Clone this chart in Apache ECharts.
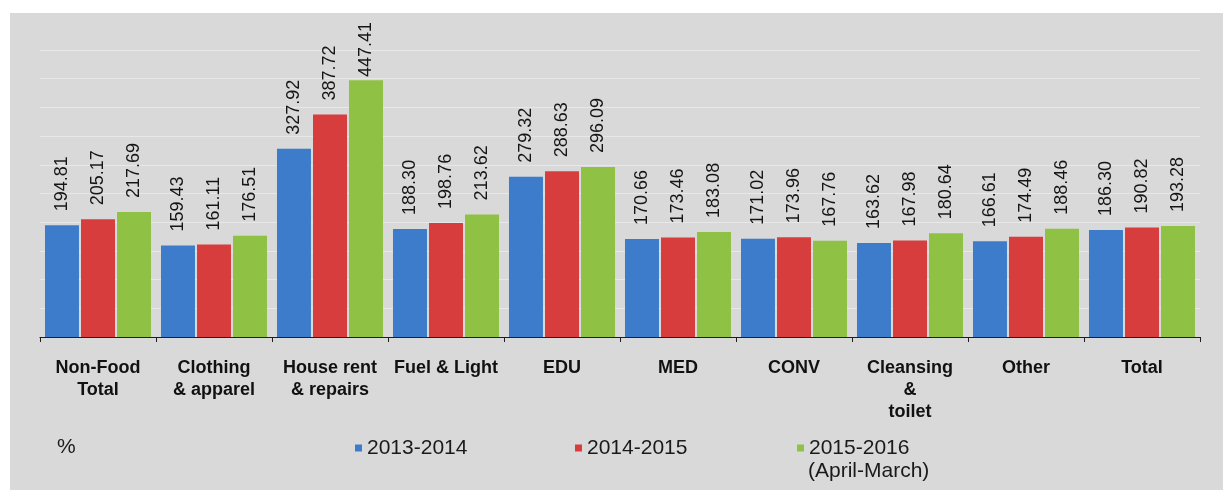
<!DOCTYPE html>
<html>
<head>
<meta charset="utf-8">
<script src="https://cdn.jsdelivr.net/npm/echarts@6/dist/echarts.min.js"></script>
<style>
  html, body { margin: 0; padding: 0; background: #ffffff; }
  #chart { width: 1223px; height: 490px; }
</style>
</head>
<body>
<div id="chart"></div>
<script>
// Expenditure indices by group, three survey years
const categories = [
  'Non-Food\nTotal', 'Clothing\n& apparel', 'House rent\n& repairs', 'Fuel & Light',
  'EDU', 'MED', 'CONV', 'Cleansing\n&\ntoilet', 'Other', 'Total'
];
const seriesNames = ['2013-2014', '2014-2015', '2015-2016'];
const values2013 = [194.81, 159.43, 327.92, 188.30, 279.32, 170.66, 171.02, 163.62, 166.61, 186.30];
const values2014 = [205.17, 161.11, 387.72, 198.76, 288.63, 173.46, 173.96, 167.98, 174.49, 190.82];
const values2015 = [217.69, 176.51, 447.41, 213.62, 296.09, 183.08, 167.76, 180.64, 188.46, 193.28];
const unitLabel = '%';
const periodNote = '(April-March)';

const colors = ['#3d7cca', '#d73d3d', '#8fc244'];
const allValues = [values2013, values2014, values2015];
const fontStack = '"Liberation Sans", Arial, sans-serif';
const labelCeiling = 22; // value labels are kept below this line

const chart = echarts.init(document.getElementById('chart'), null, { renderer: 'canvas' });

const valueLabel = {
  show: true,
  position: 'top',
  distance: 14,
  rotate: 90,
  align: 'left',
  verticalAlign: 'middle',
  fontFamily: fontStack,
  fontSize: 18,
  color: '#151515',
  formatter: p => Number(p.value).toFixed(2)
};

const series = seriesNames.map((name, i) => ({
  name: name,
  type: 'bar',
  data: allValues[i],
  itemStyle: { color: colors[i] },
  barGap: '6%',
  barCategoryGap: '8.6%',
  label: valueLabel,
  // move a label back down if it would run past the top of the panel
  labelLayout: p => {
    const r = p.labelRect;
    if (r && r.y < labelCeiling) {
      return { x: r.x + r.width / 2, y: labelCeiling + r.height };
    }
    return {};
  },
  emphasis: { disabled: true }
}));

function legendFor(name, left) {
  return {
    data: [name],
    left: left,
    top: 436.5,
    padding: 0,
    icon: 'rect',
    itemWidth: 7,
    itemHeight: 7,
    itemGap: 0,
    selectedMode: false,
    textStyle: {
      fontFamily: fontStack,
      fontSize: 21,
      lineHeight: 23,
      color: '#1a1a1a'
    }
  };
}

const option = {
  animation: false,
  backgroundColor: '#ffffff',
  color: colors,
  graphic: [
    {
      type: 'rect',
      z: -10,
      shape: { x: 10, y: 13, width: 1213, height: 477 },
      style: { fill: '#d9d9d9' },
      silent: true
    },
    {
      type: 'text',
      left: 57,
      top: 437,
      style: {
        text: unitLabel,
        font: '21px "Liberation Sans", Arial, sans-serif',
        fill: '#1a1a1a'
      }
    },
    {
      // second line under the last legend entry
      type: 'text',
      left: 808,
      top: 461,
      style: {
        text: periodNote,
        font: '21px "Liberation Sans", Arial, sans-serif',
        fill: '#1a1a1a'
      }
    }
  ],
  grid: { left: 40, right: 23, top: 50, bottom: 153, containLabel: false },
  legend: [
    legendFor(seriesNames[0], 355),
    legendFor(seriesNames[1], 575),
    legendFor(seriesNames[2], 797)
  ],
  xAxis: {
    type: 'category',
    data: categories,
    axisLine: { show: true, lineStyle: { color: '#1e1e1e', width: 1.2 } },
    axisTick: { show: true, length: 5, lineStyle: { color: '#1e1e1e' } },
    axisLabel: {
      interval: 0,
      margin: 20,
      fontFamily: fontStack,
      fontWeight: 'bold',
      fontSize: 18,
      lineHeight: 22,
      color: '#111111',
      verticalAlign: 'top'
    }
  },
  yAxis: {
    type: 'value',
    min: 0,
    max: 500,
    interval: 50,
    axisLine: { show: false },
    axisTick: { show: false },
    axisLabel: { show: false },
    splitLine: { show: true, lineStyle: { color: 'rgba(255,255,255,0.4)', width: 1 } }
  },
  series: series
};

chart.setOption(option);
</script>
</body>
</html>
